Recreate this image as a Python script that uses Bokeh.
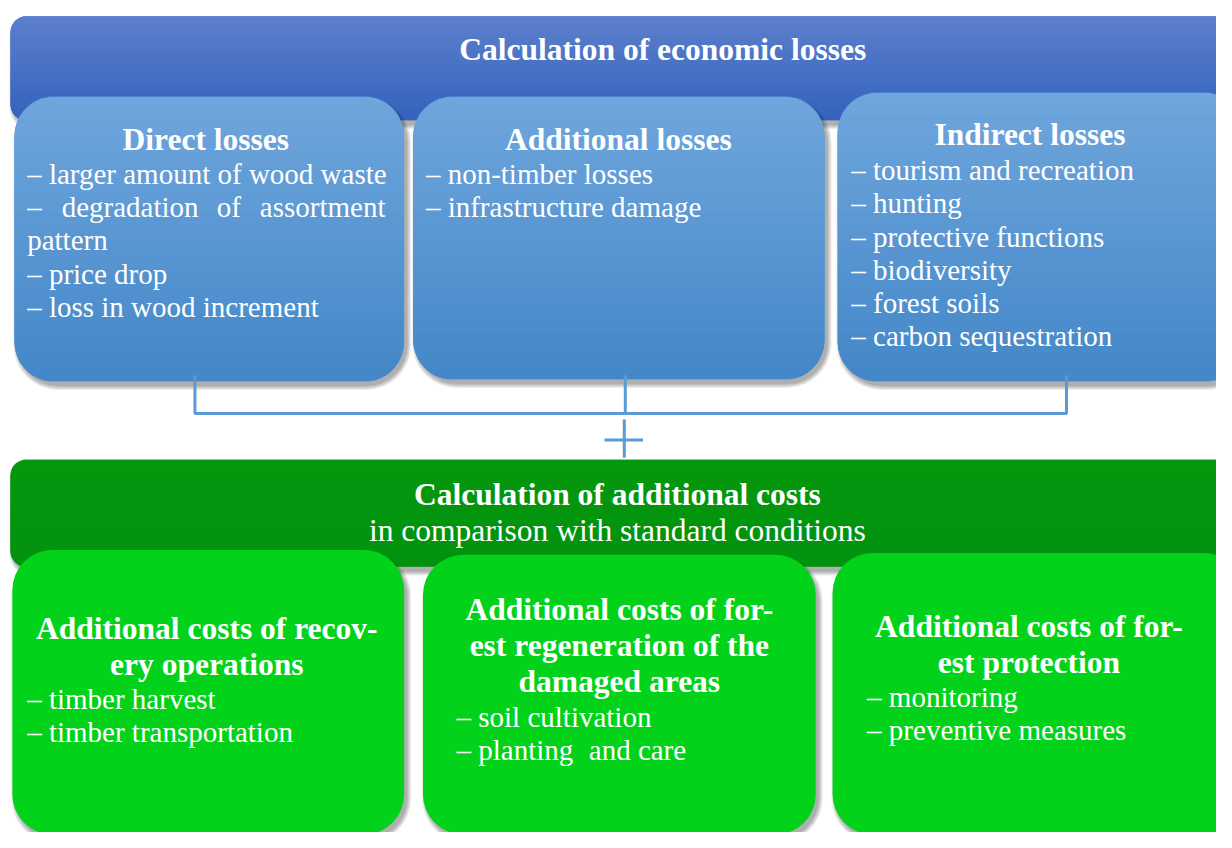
import numpy as np
from bokeh.plotting import figure
from bokeh.models import Range1d, ColumnDataSource
from bokeh.core.properties import value
from bokeh.embed import file_html
from bokeh.resources import INLINE

# ---------------- content ----------------
top_title = "Calculation of economic losses"
loss_titles = ["Direct losses", "Additional losses", "Indirect losses"]
direct_items = ["– larger amount of wood waste", "pattern", "– price drop", "– loss in wood increment"]
direct_justified = ["–", "degradation", "of", "assortment"]
additional_items = ["– non-timber losses", "– infrastructure damage"]
indirect_items = ["– tourism and recreation", "– hunting", "– protective functions",
                  "– biodiversity", "– forest soils", "– carbon sequestration"]

bottom_title = "Calculation of additional costs"
bottom_subtitle = "in comparison with standard conditions"
recovery_title = ["Additional costs of recov-", "ery operations"]
recovery_items = ["– timber harvest", "– timber transportation"]
regen_title = ["Additional costs of for-", "est regeneration of the", "damaged areas"]
regen_items = ["– soil cultivation", ["– planting", "and care"]]
protect_title = ["Additional costs of for-", "est protection"]
protect_items = ["– monitoring", "– preventive measures"]

SERIF = "Liberation Serif"

p = figure(width=1216, height=832, x_range=Range1d(0, 1232), y_range=Range1d(848, 0),
           output_backend="svg", toolbar_location=None, min_border=0)
p.axis.visible = False
p.xgrid.visible = False
p.ygrid.visible = False
p.outline_line_color = None
p.background_fill_color = "white"
p.border_fill_color = "white"


def hex2rgb(h):
    h = h.lstrip("#")
    return np.array([int(h[i:i + 2], 16) for i in (0, 2, 4)], dtype=float)


def rgb2hex(c):
    return "#%02x%02x%02x" % tuple(int(round(v)) for v in c)


def shadow(x0, x1, y0, y1, r, dx=3, dy=5, layers=5):
    for k in range(layers):
        g = layers - k
        p.quad(left=[x0 + dx - g + 1], right=[x1 + dx + g - 1], top=[y0 + dy - g + 1],
               bottom=[y1 + dy + g - 1], border_radius=r + g,
               fill_color="black", fill_alpha=0.07, line_color=None)


def gradient_box(x0, x1, y0, y1, r, c_top, c_bot, step=1.0):
    ct, cb = hex2rgb(c_top), hex2rgb(c_bot)
    mid = rgb2hex((ct + cb) / 2)
    p.quad(left=[x0], right=[x1], top=[y0], bottom=[y1], border_radius=r,
           fill_color=mid, line_color=None)
    ys = np.arange(y0, y1, step)
    L, R, T, B, C = [], [], [], [], []
    for y in ys:
        yc = y + step / 2
        d = min(yc - y0, y1 - yc)
        inset = 0.0
        if d < r:
            inset = r - np.sqrt(max(r * r - (r - d) ** 2, 0))
        t = (yc - y0) / (y1 - y0)
        L.append(x0 + inset + 0.3)
        R.append(x1 - inset - 0.3)
        T.append(y)
        B.append(min(y + step + 0.6, y1))
        C.append(rgb2hex(ct * (1 - t) + cb * t))
    src = ColumnDataSource(dict(left=L, right=R, top=T, bottom=B, color=C))
    p.quad(left="left", right="right", top="top", bottom="bottom", source=src,
           fill_color="color", line_color=None)


def solid_box(x0, x1, y0, y1, r, color):
    p.quad(left=[x0], right=[x1], top=[y0], bottom=[y1], border_radius=r,
           fill_color=color, line_color=None)


def txt(x, y, s, size, bold=False, align="left"):
    p.text(x=[x], y=[y], text=[s], text_font=value(SERIF), text_font_size=size,
           text_font_style="bold" if bold else "normal", text_color="white",
           text_align=align, text_baseline="middle")


HEAD = "31.5px"
BODY = "29px"
LS = 33.8   # body line spacing
HS = 36.8   # heading line spacing

# ---------------- top (blue) section ----------------
shadow(10, 1250, 16, 122, 16)
gradient_box(10, 1250, 16, 122, 16, "#5d80cc", "#3462bd")
txt(671, 50, top_title, HEAD, bold=True, align="center")

blue_boxes = [(14, 409, 98, 388), (418, 835, 98, 386), (848, 1260, 94, 388)]
for (x0, x1, y0, y1) in blue_boxes:
    shadow(x0, x1, y0, y1, 40)
for (x0, x1, y0, y1) in blue_boxes:
    gradient_box(x0, x1, y0, y1, 40, "#70a6dc", "#4387c8")

title_x = [208, 626, 1043]
title_y = [142, 142, 137]
for tx, ty, s in zip(title_x, title_y, loss_titles):
    txt(tx, ty, s, HEAD, bold=True, align="center")

# direct losses
txt(27, 177, direct_items[0], BODY)
txt(27, 177 + LS, direct_justified[0], BODY)
txt(62, 177 + LS, direct_justified[1], BODY)
txt(219, 177 + LS, direct_justified[2], BODY)
txt(390, 177 + LS, direct_justified[3], BODY, align="right")
for i, s in enumerate(direct_items[1:]):
    txt(27, 177 + (i + 2) * LS, s, BODY)
# additional losses
for i, s in enumerate(additional_items):
    txt(431, 177 + i * LS, s, BODY)
# indirect losses
for i, s in enumerate(indirect_items):
    txt(862, 173 + i * LS, s, BODY)

# ---------------- connector ----------------
CONN = "#5b9bd5"
p.line(x=[197, 197, 1080, 1080], y=[382, 421, 421, 382], line_color=CONN, line_width=3)
p.line(x=[633, 633], y=[382, 421], line_color=CONN, line_width=3)
p.line(x=[632, 632], y=[427, 466], line_color=CONN, line_width=3)
p.line(x=[612, 651], y=[448, 448], line_color=CONN, line_width=3)

# ---------------- bottom (green) section ----------------
shadow(10, 1250, 468, 577, 16)
gradient_box(10, 1250, 468, 577, 16, "#04980f", "#03920f")
txt(625, 503, bottom_title, HEAD, bold=True, align="center")
txt(625, 540, bottom_subtitle, HEAD, align="center")

green_boxes = [(12, 409, 560, 850), (428, 826, 565, 850), (843, 1260, 563, 850)]
for (x0, x1, y0, y1) in green_boxes:
    shadow(x0, x1, y0, y1, 40)
for (x0, x1, y0, y1) in green_boxes:
    solid_box(x0, x1, y0, y1, 40, "#02d31a")

for i, s in enumerate(recovery_title):
    txt(209, 640 + i * HS, s, HEAD, bold=True, align="center")
for i, s in enumerate(recovery_items):
    txt(27, 712 + i * LS, s, BODY)

for i, s in enumerate(regen_title):
    txt(627, 621 + i * HS, s, HEAD, bold=True, align="center")
txt(462, 730, regen_items[0], BODY)
txt(462, 730 + LS, regen_items[1][0], BODY)
txt(596, 730 + LS, regen_items[1][1], BODY)

for i, s in enumerate(protect_title):
    txt(1042, 638 + i * HS, s, HEAD, bold=True, align="center")
for i, s in enumerate(protect_items):
    txt(878, 710 + i * LS, s, BODY)

open("out.html", "w").write(file_html(p, INLINE))
